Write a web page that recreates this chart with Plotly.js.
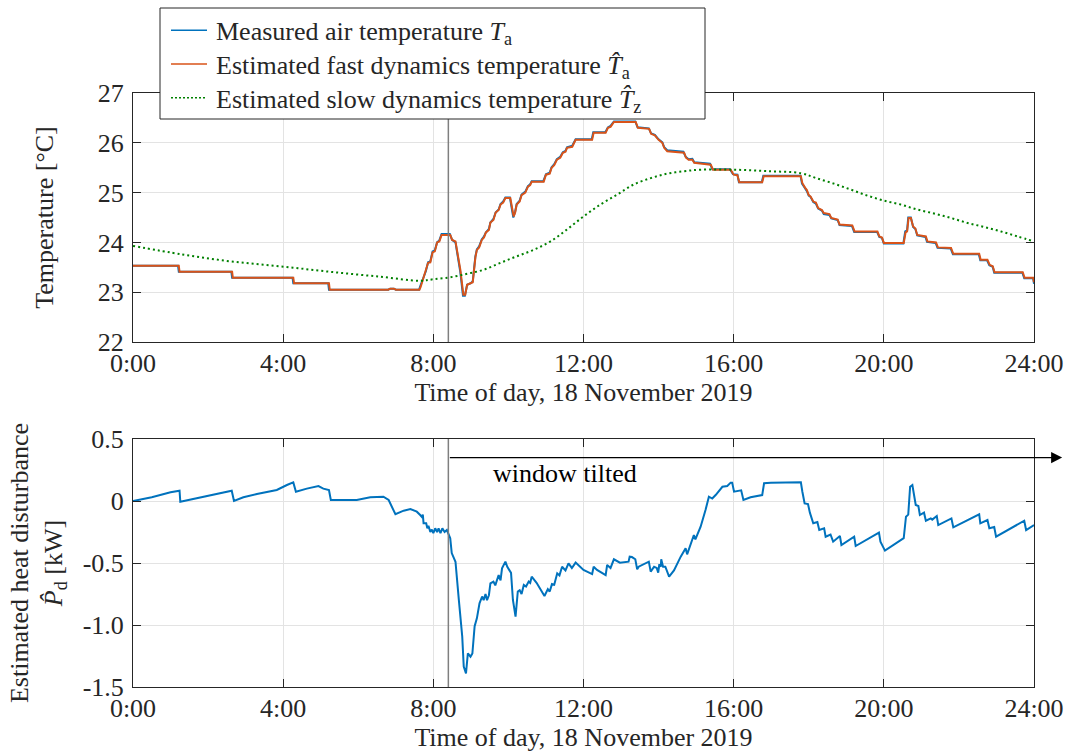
<!DOCTYPE html>
<html>
<head>
<meta charset="utf-8">
<script src="https://cdn.plot.ly/plotly-3.0.1.min.js"></script>
<style>html,body{margin:0;padding:0;background:#fff;}#chart{width:1066px;height:756px;}</style>
</head>
<body>
<div id="chart"></div>
<script>
// ---- data (hours of day, values) ----
const hourTicks = [0, 4, 8, 12, 16, 20, 24];
const hourLabels = ["0:00", "4:00", "8:00", "12:00", "16:00", "20:00", "24:00"];
const tempTicks = [22, 23, 24, 25, 26, 27];
const powerTicks = [0.5, 0, -0.5, -1.0, -1.5];
const powerLabels = ["0.5", "0", "-0.5", "-1.0", "-1.5"];
const windowTiltedStart = 8.4;

// Estimated fast dynamics temperature (orange)
const fastT = [0,1.22,1.24,2.64,2.66,4.27,4.29,5.22,5.24,6.8,6.85,6.95,7.0,7.63,7.66,7.72,7.8,7.86,7.92,7.98,8.04,8.1,8.16,8.22,8.45,8.5,8.59,8.72,8.8,8.85,8.9,9.0,9.05,9.12,9.16,9.22,9.29,9.35,9.4,9.48,9.52,9.6,9.66,9.74,9.79,9.86,9.92,10.05,10.14,10.18,10.22,10.3,10.35,10.45,10.52,10.58,10.62,10.94,11.0,11.1,11.15,11.22,11.29,11.38,11.45,11.52,11.56,11.7,11.79,12.23,12.27,12.59,12.65,12.72,12.81,13.39,13.45,13.75,13.8,13.9,14.0,14.1,14.15,14.23,14.68,14.73,14.8,14.9,14.95,15.39,15.45,15.92,16.0,16.1,16.15,16.76,16.8,17.79,17.83,17.9,17.95,18.0,18.05,18.12,18.19,18.25,18.35,18.4,18.55,18.6,18.77,18.82,19.16,19.22,19.83,19.88,19.95,20.0,20.53,20.58,20.62,20.66,20.72,20.78,20.84,20.89,21.12,21.16,21.39,21.44,21.79,21.85,22.54,22.58,22.76,22.82,22.9,22.95,23.7,23.75,23.98,24.0];
const fastV = [23.53,23.53,23.41,23.41,23.29,23.29,23.18,23.18,23.05,23.05,23.07,23.07,23.05,23.05,23.1,23.25,23.4,23.59,23.6,23.8,23.82,24.0,24.02,24.15,24.15,24.05,24.02,23.45,22.95,22.95,23.15,23.18,23.2,23.7,23.85,23.9,24.05,24.1,24.2,24.25,24.4,24.45,24.6,24.65,24.76,24.8,24.89,24.89,24.52,24.6,24.76,24.82,24.95,25.0,25.12,25.15,25.22,25.22,25.36,25.38,25.5,25.55,25.66,25.7,25.8,25.82,25.9,25.92,26.06,26.06,26.2,26.2,26.3,26.32,26.42,26.42,26.3,26.28,26.18,26.15,26.06,26.0,25.9,25.83,25.8,25.7,25.66,25.66,25.6,25.56,25.46,25.46,25.36,25.35,25.21,25.21,25.33,25.33,25.19,25.1,25.05,24.95,24.92,24.82,24.8,24.69,24.65,24.59,24.57,24.49,24.46,24.36,24.34,24.22,24.22,24.12,24.1,23.99,23.99,24.2,24.22,24.49,24.49,24.32,24.28,24.15,24.12,24.02,24.0,23.9,23.89,23.77,23.77,23.65,23.65,23.55,23.52,23.4,23.4,23.29,23.29,23.2];

// Measured air temperature (blue)
const measT = [0,1.2,1.22,2.62,2.64,4.25,4.27,5.2,5.22,6.8,6.85,6.95,7.0,7.62,7.65,7.72,7.8,7.86,7.92,7.98,8.04,8.1,8.16,8.22,8.44,8.5,8.59,8.72,8.79,8.84,8.9,9.0,9.05,9.12,9.16,9.22,9.29,9.35,9.4,9.48,9.52,9.6,9.66,9.74,9.79,9.86,9.92,10.04,10.13,10.18,10.22,10.3,10.35,10.45,10.52,10.58,10.62,10.93,11.0,11.1,11.15,11.22,11.29,11.38,11.45,11.52,11.56,11.7,11.79,12.22,12.26,12.58,12.65,12.72,12.81,13.38,13.44,13.74,13.8,13.9,14.0,14.1,14.15,14.23,14.66,14.72,14.8,14.9,14.95,15.37,15.43,15.9,15.98,16.1,16.14,16.75,16.79,17.78,17.82,17.9,17.95,18.0,18.05,18.12,18.19,18.25,18.35,18.4,18.55,18.6,18.77,18.82,19.15,19.21,19.82,19.88,19.95,20.0,20.52,20.57,20.62,20.65,20.72,20.78,20.84,20.89,21.11,21.15,21.38,21.43,21.78,21.84,22.53,22.57,22.75,22.81,22.9,22.94,23.69,23.74,23.98,24.0];
const measV = [23.53,23.53,23.41,23.41,23.29,23.29,23.18,23.18,23.05,23.05,23.07,23.07,23.05,23.05,23.12,23.27,23.42,23.6,23.62,23.82,23.84,24.0,24.04,24.17,24.17,24.05,24.0,23.4,22.93,22.93,23.15,23.18,23.22,23.72,23.86,23.92,24.06,24.12,24.2,24.27,24.4,24.47,24.6,24.66,24.77,24.82,24.9,24.9,24.5,24.62,24.77,24.84,24.96,25.02,25.13,25.17,25.23,25.23,25.37,25.4,25.51,25.57,25.67,25.72,25.81,25.84,25.91,25.94,26.07,26.07,26.21,26.21,26.31,26.34,26.43,26.43,26.31,26.29,26.19,26.16,26.07,26.01,25.91,25.85,25.82,25.72,25.67,25.68,25.61,25.58,25.47,25.47,25.37,25.36,25.21,25.21,25.34,25.34,25.18,25.09,25.03,24.94,24.91,24.81,24.78,24.68,24.64,24.57,24.55,24.48,24.45,24.35,24.33,24.21,24.21,24.11,24.09,23.98,23.98,24.22,24.24,24.5,24.5,24.31,24.27,24.14,24.11,24.01,23.99,23.89,23.88,23.76,23.76,23.64,23.64,23.54,23.51,23.39,23.39,23.28,23.28,23.17];

// Estimated slow dynamics temperature (green dotted)
const slowT = [0,1.3,2.59,3.92,5.25,6.59,7.65,8.0,8.45,8.9,9.34,9.79,10.22,10.67,11.12,11.56,12.0,12.45,12.9,13.33,13.79,14.23,14.68,15.12,16.0,16.9,17.79,18.2,18.67,19.12,19.56,20.0,20.45,20.89,21.34,21.79,22.23,22.67,23.12,23.56,24.0];
const slowV = [23.93,23.76,23.62,23.52,23.41,23.31,23.23,23.26,23.3,23.37,23.45,23.59,23.72,23.85,24.02,24.26,24.52,24.76,24.96,25.16,25.29,25.38,25.43,25.46,25.46,25.43,25.39,25.29,25.18,25.06,24.94,24.84,24.76,24.66,24.58,24.49,24.39,24.31,24.22,24.12,24.02];

// Estimated heat disturbance (kW)
const powT = [0,0.5,1.0,1.24,1.26,2.0,2.63,2.69,2.94,3.3,3.83,4.1,4.27,4.34,4.63,4.94,5.07,5.22,5.27,5.96,6.32,6.67,6.81,6.99,7.21,7.39,7.56,7.65,7.69,7.72,7.74,7.81,7.84,7.87,7.92,7.96,8.0,8.05,8.1,8.14,8.19,8.24,8.3,8.36,8.45,8.49,8.55,8.59,8.68,8.77,8.81,8.87,8.92,8.96,8.99,9.04,9.10,9.16,9.23,9.30,9.34,9.39,9.43,9.48,9.52,9.6,9.65,9.74,9.79,9.83,9.92,9.97,10.07,10.12,10.19,10.25,10.3,10.35,10.41,10.47,10.54,10.58,10.62,10.75,10.96,11.05,11.1,11.16,11.22,11.3,11.36,11.43,11.52,11.6,11.69,11.79,12.0,12.23,12.27,12.36,12.59,12.63,12.72,12.81,12.97,13.2,13.23,13.29,13.38,13.43,13.47,13.74,13.79,13.88,13.95,13.99,14.02,14.06,14.07,14.12,14.18,14.28,14.41,14.59,14.72,14.76,14.94,14.98,15.12,15.25,15.34,15.43,15.52,15.7,15.83,15.92,15.96,16.01,16.15,16.2,16.26,16.45,16.76,16.81,16.99,17.79,17.83,17.89,17.98,18.03,18.12,18.23,18.28,18.41,18.45,18.58,18.65,18.83,18.87,19.21,19.25,19.87,19.91,20.03,20.53,20.59,20.65,20.7,20.76,20.81,20.85,20.92,20.96,21.07,21.12,21.25,21.29,21.41,21.45,21.8,21.85,22.54,22.57,22.76,22.81,22.94,22.99,23.74,23.79,24.0];
const powV = [0.0,0.03,0.07,0.083,-0.006,0.04,0.083,0.0,0.03,0.056,0.089,0.129,0.15,0.075,0.10,0.12,0.10,0.089,0.008,0.008,0.03,0.035,0.008,-0.107,-0.078,-0.065,-0.086,-0.113,-0.127,-0.11,-0.18,-0.18,-0.22,-0.20,-0.25,-0.23,-0.26,-0.22,-0.25,-0.22,-0.26,-0.22,-0.25,-0.234,-0.30,-0.42,-0.47,-0.49,-0.80,-1.094,-1.336,-1.39,-1.228,-1.24,-1.255,-1.23,-1.01,-0.946,-0.825,-0.77,-0.80,-0.75,-0.80,-0.76,-0.664,-0.65,-0.68,-0.597,-0.64,-0.543,-0.489,-0.53,-0.58,-0.798,-0.933,-0.73,-0.72,-0.75,-0.677,-0.69,-0.65,-0.66,-0.61,-0.66,-0.766,-0.71,-0.73,-0.67,-0.675,-0.583,-0.6,-0.53,-0.56,-0.503,-0.54,-0.497,-0.556,-0.589,-0.53,-0.556,-0.597,-0.516,-0.54,-0.47,-0.497,-0.489,-0.449,-0.452,-0.47,-0.551,-0.53,-0.489,-0.57,-0.53,-0.54,-0.578,-0.51,-0.53,-0.47,-0.53,-0.53,-0.61,-0.56,-0.449,-0.381,-0.43,-0.274,-0.31,-0.207,-0.073,0.035,0.02,0.048,0.115,0.121,0.148,0.148,0.075,0.083,0.086,0.008,0.03,0.048,0.143,0.148,0.151,0.075,-0.019,-0.025,-0.094,-0.18,-0.17,-0.234,-0.22,-0.288,-0.27,-0.328,-0.282,-0.355,-0.288,-0.363,-0.255,-0.328,-0.40,-0.30,-0.127,-0.11,0.115,0.129,0.035,-0.032,-0.04,-0.113,-0.094,-0.159,-0.14,-0.15,-0.121,-0.194,-0.14,-0.212,-0.107,-0.18,-0.153,-0.22,-0.21,-0.288,-0.159,-0.234,-0.194];

const seriesNames = [
  "Measured air temperature <i>T</i><sub>a</sub>",
  "Estimated fast dynamics temperature <i>T\u0302</i><sub>a</sub>",
  "Estimated slow dynamics temperature <i>T\u0302</i><sub>z</sub>"
];
const seriesColors = ["#0072BD", "#D95319", "#008000"];

const FONT = "Liberation Serif, Times New Roman, serif";
const AX = "#262626";
const GRID = "#e3e3e3";
const FS = 26;
const LEG_FS = 26;

const traces = [
  {x: measT, y: measV, xaxis: "x", yaxis: "y", type: "scatter", mode: "lines", showlegend: false,
   name: seriesNames[0], line: {color: seriesColors[0], width: 2}},
  {x: fastT, y: fastV, xaxis: "x", yaxis: "y", type: "scatter", mode: "lines", showlegend: false,
   name: seriesNames[1], line: {color: seriesColors[1], width: 2}},
  {x: slowT, y: slowV, xaxis: "x", yaxis: "y", type: "scatter", mode: "lines", showlegend: false,
   name: seriesNames[2], line: {shape: "spline", color: seriesColors[2], width: 2, dash: "2px,3px"}},
  {x: powT, y: powV, xaxis: "x2", yaxis: "y2", type: "scatter", mode: "lines",
   showlegend: false, line: {color: "#0072BD", width: 2}}
];

function xAxis(anchor) {
  return {
    anchor: anchor, range: [0, 24], tickvals: hourTicks, ticktext: hourLabels,
    ticks: "inside", ticklen: 8, tickcolor: AX, showline: true, linecolor: AX, linewidth: 1,
    mirror: "allticks", showgrid: true, gridcolor: GRID, zeroline: false, automargin: false,
    ticklabelstandoff: -2,
    tickfont: {family: FONT, size: FS, color: "#262626"},
    title: {text: "Time of day, 18 November 2019", font: {family: FONT, size: FS, color: "#262626"}, standoff: 0}
  };
}

// legend drawn in paper coordinates (plot area: x 133..1034 px, y 93..687 px)
const W = 901, H = 594, L = 133, B = 687;
const px = v => (v - L) / W;
const py = v => (B - v) / H;
const rowGap = LEG_FS * 1.3;
const rowMid = 64;

const shapes = [
  {type: "line", xref: "x", yref: "y domain", x0: windowTiltedStart, x1: windowTiltedStart, y0: 0, y1: 1, line: {color: "#7f7f7f", width: 1.5}},
  {type: "line", xref: "x2", yref: "y2 domain", x0: windowTiltedStart, x1: windowTiltedStart, y0: 0, y1: 1, line: {color: "#7f7f7f", width: 1.5}},
  {type: "rect", xref: "paper", yref: "paper", x0: px(160), x1: px(705), y0: py(119), y1: py(8),
   fillcolor: "#fff", line: {color: "#262626", width: 1}, layer: "above"}
];
const annotations = [
  {xref: "x2", yref: "y2", x: 24.75, y: 0.35, ax: windowTiltedStart, ay: 0.35, axref: "x2", ayref: "y2",
   showarrow: true, arrowhead: 2, arrowsize: 1.7, arrowwidth: 1.3, arrowcolor: "#000", text: ""},
  {xref: "x2", yref: "y2", x: 11.5, y: 0.225, text: "window tilted", showarrow: false,
   font: {family: FONT, size: FS, color: "#000"}},
  {xref: "paper", yref: "paper", x: px(214), y: py(rowMid + 3), xanchor: "left", yanchor: "middle",
   align: "left", showarrow: false, text: seriesNames.join("<br>"),
   font: {family: FONT, size: LEG_FS, color: "#262626"}}
];
seriesNames.forEach((nm, i) => {
  const yRow = rowMid + (i - 1) * rowGap;
  shapes.push({type: "line", xref: "paper", yref: "paper", x0: px(171), x1: px(207),
    y0: py(yRow), y1: py(yRow), layer: "above",
    line: {color: seriesColors[i], width: 1.5, dash: i === 2 ? "2px,2px" : "solid"}});
});

const layout = {
  width: 1066, height: 756,
  margin: {l: 133, r: 32, t: 93, b: 69, autoexpand: false},
  paper_bgcolor: "#fff", plot_bgcolor: "#fff",
  font: {family: FONT, size: FS, color: "#262626"},
  showlegend: false,
  xaxis: Object.assign(xAxis("y"), {domain: [0, 1]}),
  yaxis: {domain: [0.5808, 1], range: [22, 27], tickvals: tempTicks,
    ticks: "inside", ticklen: 8, tickcolor: AX, showline: true, linecolor: AX, mirror: "allticks",
    showgrid: true, gridcolor: GRID, zeroline: false, automargin: false, ticklabelstandoff: 3,
    tickfont: {family: FONT, size: FS, color: "#262626"},
    title: {text: "Temperature [°C]", font: {family: FONT, size: FS, color: "#262626"}, standoff: 36}},
  xaxis2: Object.assign(xAxis("y2"), {domain: [0, 1]}),
  yaxis2: {domain: [0, 0.4175], range: [-1.5, 0.5], tickvals: powerTicks, ticktext: powerLabels,
    ticks: "inside", ticklen: 8, tickcolor: AX, showline: true, linecolor: AX, mirror: "allticks",
    showgrid: true, gridcolor: GRID, zeroline: false, automargin: false, ticklabelstandoff: 3,
    tickfont: {family: FONT, size: FS, color: "#262626"},
    title: {text: "Estimated heat disturbance<br><i>P\u0302</i><sub>d</sub> [kW]", font: {family: FONT, size: FS, color: "#262626"}, standoff: 12}},
  shapes: shapes,
  annotations: annotations
};

Plotly.newPlot("chart", traces, layout, {displayModeBar: false, staticPlot: true});
</script>
</body>
</html>
